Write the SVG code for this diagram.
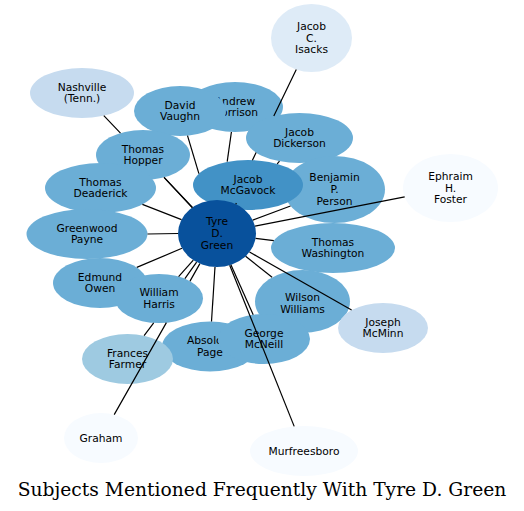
<svg xmlns="http://www.w3.org/2000/svg" width="524" height="511" viewBox="0 0 524 511">
<style>
  .n ellipse { stroke: none; }
  .c0 { fill: #08519c; }
  .c1 { fill: #4292c6; }
  .c2 { fill: #6baed6; }
  .c3 { fill: #9ecae1; }
  .c4 { fill: #c6dbef; }
  .c5 { fill: #deebf7; }
  .c6 { fill: #f7fbff; }
  .n text { font-family: "DejaVu Sans", "Noto Sans", sans-serif; font-size: 10.7px; text-anchor: middle; fill: #000; }
  #edges path { stroke: #000; stroke-width: 1.2; fill: none; }
  .title { font-family: "DejaVu Serif", "Liberation Serif", serif; font-size: 18.7px; text-anchor: middle; fill: #000; }
</style>
<rect width="524" height="511" fill="#ffffff"/>
<g id="node-isacks" class="n"><ellipse class="c5" cx="311.5" cy="38" rx="40.5" ry="34"/><text x="311.5" y="29.7">Jacob</text><text x="311.5" y="41.5">C.</text><text x="311.5" y="53.3">Isacks</text></g>
<g id="node-nashville" class="n"><ellipse class="c4" cx="82" cy="93" rx="52" ry="25"/><text x="82" y="90.6">Nashville</text><text x="82" y="102.4">(Tenn.)</text></g>
<g id="node-morrison" class="n"><ellipse class="c2" cx="235" cy="107" rx="48" ry="25"/><text x="235" y="104.6">Andrew</text><text x="235" y="116.4">Morrison</text></g>
<g id="node-vaughn" class="n"><ellipse class="c2" cx="180" cy="111" rx="46" ry="25"/><text x="180" y="108.6">David</text><text x="180" y="120.4">Vaughn</text></g>
<g id="node-dickerson" class="n"><ellipse class="c2" cx="299.5" cy="138" rx="53.5" ry="25"/><text x="299.5" y="135.6">Jacob</text><text x="299.5" y="147.4">Dickerson</text></g>
<g id="node-person" class="n"><ellipse class="c2" cx="334.5" cy="189.5" rx="50.5" ry="33.5"/><text x="334.5" y="181.2">Benjamin</text><text x="334.5" y="193">P.</text><text x="334.5" y="204.8">Person</text></g>
<g id="node-mcgavock" class="n"><ellipse class="c1" cx="248" cy="185" rx="55" ry="25"/><text x="248" y="182.6">Jacob</text><text x="248" y="194.4">McGavock</text></g>
<g id="node-hopper" class="n"><ellipse class="c2" cx="143" cy="155" rx="47" ry="25"/><text x="143" y="152.6">Thomas</text><text x="143" y="164.4">Hopper</text></g>
<g id="node-deaderick" class="n"><ellipse class="c2" cx="100.5" cy="188" rx="55.5" ry="25"/><text x="100.5" y="185.6">Thomas</text><text x="100.5" y="197.4">Deaderick</text></g>
<g id="node-foster" class="n"><ellipse class="c6" cx="450.5" cy="188" rx="47.5" ry="34"/><text x="450.5" y="179.7">Ephraim</text><text x="450.5" y="191.5">H.</text><text x="450.5" y="203.3">Foster</text></g>
<g id="node-payne" class="n"><ellipse class="c2" cx="87" cy="234" rx="60.5" ry="25"/><text x="87" y="231.6">Greenwood</text><text x="87" y="243.4">Payne</text></g>
<g id="node-green" class="n"><ellipse class="c0" cx="217" cy="233.5" rx="39" ry="33.5"/><text x="217" y="225.2">Tyre</text><text x="217" y="237">D.</text><text x="217" y="248.8">Green</text></g>
<g id="node-washington" class="n"><ellipse class="c2" cx="333" cy="248" rx="62" ry="25"/><text x="333" y="245.6">Thomas</text><text x="333" y="257.4">Washington</text></g>
<g id="node-owen" class="n"><ellipse class="c2" cx="100" cy="283" rx="47" ry="25"/><text x="100" y="280.6">Edmund</text><text x="100" y="292.4">Owen</text></g>
<g id="node-harris" class="n"><ellipse class="c2" cx="159" cy="298.5" rx="44" ry="24.5"/><text x="159" y="296.1">William</text><text x="159" y="307.9">Harris</text></g>
<g id="node-williams" class="n"><ellipse class="c2" cx="302.5" cy="301.5" rx="47.5" ry="31.5"/><text x="302.5" y="301">Wilson</text><text x="302.5" y="312.8">Williams</text></g>
<g id="node-mcminn" class="n"><ellipse class="c4" cx="383" cy="328" rx="45" ry="25"/><text x="383" y="325.6">Joseph</text><text x="383" y="337.4">McMinn</text></g>
<g id="node-page" class="n"><ellipse class="c2" cx="210" cy="346.5" rx="48" ry="25"/><text x="210" y="344.1">Absolom</text><text x="210" y="355.9">Page</text></g>
<g id="node-mcneill" class="n"><ellipse class="c2" cx="264" cy="339" rx="46" ry="25"/><text x="264" y="336.6">George</text><text x="264" y="348.4">McNeill</text></g>
<g id="node-farmer" class="n"><ellipse class="c3" cx="127.5" cy="359" rx="45.5" ry="25"/><text x="127.5" y="356.6">Frances</text><text x="127.5" y="368.4">Farmer</text></g>
<g id="node-graham" class="n"><ellipse class="c6" cx="101" cy="438" rx="37" ry="25"/><text x="101" y="441.5">Graham</text></g>
<g id="node-murfreesboro" class="n"><ellipse class="c6" cx="304" cy="451" rx="54" ry="25"/><text x="304" y="454.5">Murfreesboro</text></g>
<g id="edges">
  <path d="M103.8,115.7 L120.5,133.1 M164,177.4 L192.2,207.7"/>
  <path d="M164.1,177.4 L192.5,207.5"/>
  <path d="M296.3,69.5 L273.8,116.1 M256.1,152.6 L252.4,160.2"/>
  <path d="M279.5,161.2 L277.2,163.8"/>
  <path d="M231.4,132 L227.2,161.7"/>
  <path d="M187.5,135.7 L198.9,173.7"/>
  <path d="M236.4,203.1 L235.8,204.2"/>
  <path d="M142.4,204.4 L181.5,219.6"/>
  <path d="M147.5,234 L178,233.5"/>
  <path d="M136.8,267.4 L182,248.3"/>
  <path d="M178.6,276.6 L193.3,260.1"/>
  <path d="M144.1,335.7 L153.7,322.9 M184.9,278.6 L196.6,262.1"/>
  <path d="M114.2,414.6 L166.4,322.6 M190,281.1 L199.9,263.6"/>
  <path d="M211.5,321.5 L215,267"/>
  <path d="M253.2,314.7 L230.9,264.8"/>
  <path d="M294.2,426.4 L229.7,265.2"/>
  <path d="M272.1,277.3 L245.6,256.3"/>
  <path d="M351.6,310.1 L249.5,252"/>
  <path d="M273.8,240.6 L255.6,238.3"/>
  <path d="M290.5,206 L252.8,220.1"/>
  <path d="M404.7,196.9 L255,226.1"/>
</g>
<text class="title" x="262" y="496">Subjects Mentioned Frequently With Tyre D. Green</text>
</svg>
